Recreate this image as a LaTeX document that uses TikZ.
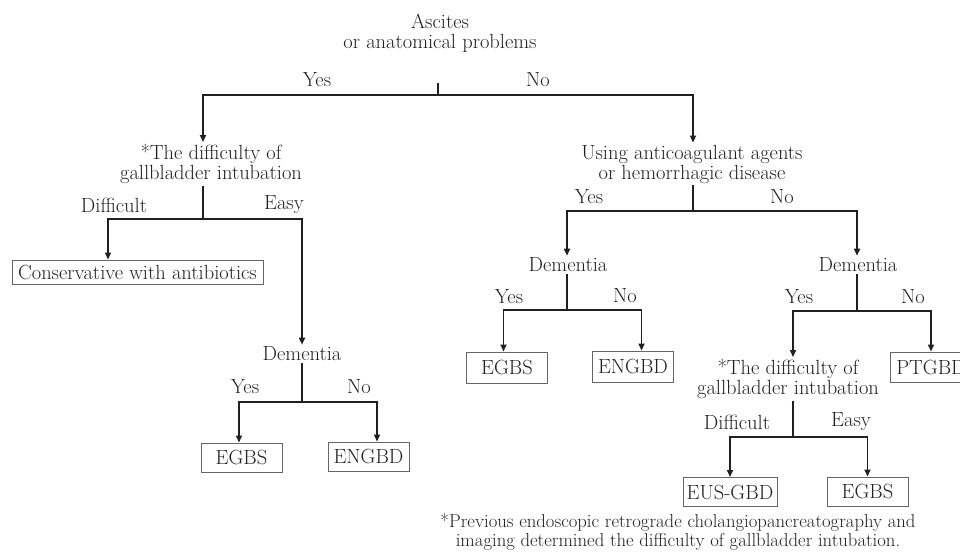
\documentclass[tikz,border=0pt]{standalone}
\usepackage{xcolor}
\usetikzlibrary{arrows.meta}
\definecolor{ink}{HTML}{231F20}

\begin{document}
\begin{tikzpicture}[x=1pt,y=-1pt,
    font=\fontsize{20.5}{20}\selectfont, text=ink,
    ask/.style={align=center, inner sep=2pt},
    lab/.style={inner sep=0pt},
    leaf/.style={rectangle, draw=black!60, line width=1pt, inner sep=3pt,
      minimum height=29pt, minimum width=81pt},
    link/.style={draw=ink, line width=1.6pt},
    arr/.style={link, -{Triangle[width=6pt,length=7pt]}}]
  \useasboundingbox (0,0) rectangle (960,557);

  % questions and outcomes
  \node[ask] (root) at (440,33) {Ascites\\or anatomical problems};
  \node[ask] (diffL) at (211,164) {*The difficulty of\\gallbladder intubation};
  \node[leaf, minimum width=251pt, minimum height=24pt, inner sep=1pt] (cons) at (137.5,272) {Conservative with antibiotics};
  \node[ask] (demL) at (302,354) {Dementia};
  \node[leaf] (egbsA) at (241.5,457.5) {EGBS};
  \node[leaf] (engbdA) at (368.5,456.5) {ENGBD};
  \node[ask] (anti) at (692,164) {Using anticoagulant agents\\or hemorrhagic disease};
  \node[ask] (demM) at (568,265) {Dementia};
  \node[leaf, minimum height=31pt] (egbsB) at (507,367.5) {EGBS};
  \node[leaf, minimum height=31pt] (engbdB) at (633,366.5) {ENGBD};
  \node[ask] (demR) at (858,265) {Dementia};
  \node[leaf, minimum height=30pt] (ptgbd) at (931,367) {PTGBD};
  \node[ask] (diffR) at (788,379) {*The difficulty of\\gallbladder intubation};
  \node[leaf, minimum width=94pt] (eus) at (730,492) {EUS-GBD};
  \node[leaf] (egbsC) at (867.5,491.5) {EGBS};
  \node[ask, font=\fontsize{18.7}{18.5}\selectfont] (note) at (678,532)
    {*Previous endoscopic retrograde cholangiopancreatography and\\imaging determined the difficulty of gallbladder intubation.};

  % branch labels
  \node[lab] (yesA) at (317,80) {Yes};
  \node[lab] (noA) at (538,80) {No};
  \node[lab] (difA) at (114,205) {Difficult};
  \node[lab] (easyA) at (284,205) {Easy};
  \node[lab] (yesB) at (245,387) {Yes};
  \node[lab] (noB) at (359,387) {No};
  \node[lab] (yesC) at (589,197) {Yes};
  \node[lab] (noC) at (782,197) {No};
  \node[lab] (yesD) at (509,297) {Yes};
  \node[lab] (noD) at (625,296) {No};
  \node[lab] (yesE) at (799,297) {Yes};
  \node[lab] (noE) at (913,297) {No};
  \node[lab] (difB) at (737,422) {Difficult};
  \node[lab] (easyB) at (851,422) {Easy};

  % junctions
  \coordinate (rootS) at (438,83);
  \coordinate (rootJ) at (438,95);
  \coordinate (diffLJ) at (203,219);
  \coordinate (demLJ) at (302,402);
  \coordinate (antiJ) at (693,211);
  \coordinate (demMJ) at (567,310);
  \coordinate (demRJ) at (857,311);
  \coordinate (diffRJ) at (793,437);

  % connectors
  \draw[link] (rootS) -- (rootJ);
  \draw[arr] (rootJ) -| (diffLJ |- diffL.north);
  \draw[arr] (rootJ) -| (antiJ |- anti.north);

  \draw[link] (diffL.south -| diffLJ) -- (diffLJ);
  \draw[arr] (diffLJ) -| ([xshift=-29.5pt]cons.north);
  \draw[arr] (diffLJ) -| (demLJ |- demL.north);

  \draw[link] (demL.south -| demLJ) -- (demLJ);
  \draw[arr] (demLJ) -| ([xshift=-2.5pt]egbsA.north);
  \draw[arr] (demLJ) -| ([xshift=8.5pt]engbdA.north);

  \draw[link] (anti.south -| antiJ) -- (antiJ);
  \draw[arr] (antiJ) -| (demMJ |- demM.north);
  \draw[arr] (antiJ) -| (demRJ |- demR.north);

  \draw[link] (demM.south -| demMJ) -- (demMJ);
  \draw[arr] (demMJ) -| ([xshift=-3.5pt]egbsB.north);
  \draw[arr] (demMJ) -| ([xshift=8.5pt]engbdB.north);

  \draw[link] (demR.south -| demRJ) -- (demRJ);
  \draw[arr] (demRJ) -| (diffRJ |- diffR.north);
  \draw[arr] (demRJ) -| (ptgbd.north);

  \draw[link] (diffR.south -| diffRJ) -- (diffRJ);
  \draw[arr] (diffRJ) -| (eus.north);
  \draw[arr] (diffRJ) -| (egbsC.north);
\end{tikzpicture}
\end{document}
